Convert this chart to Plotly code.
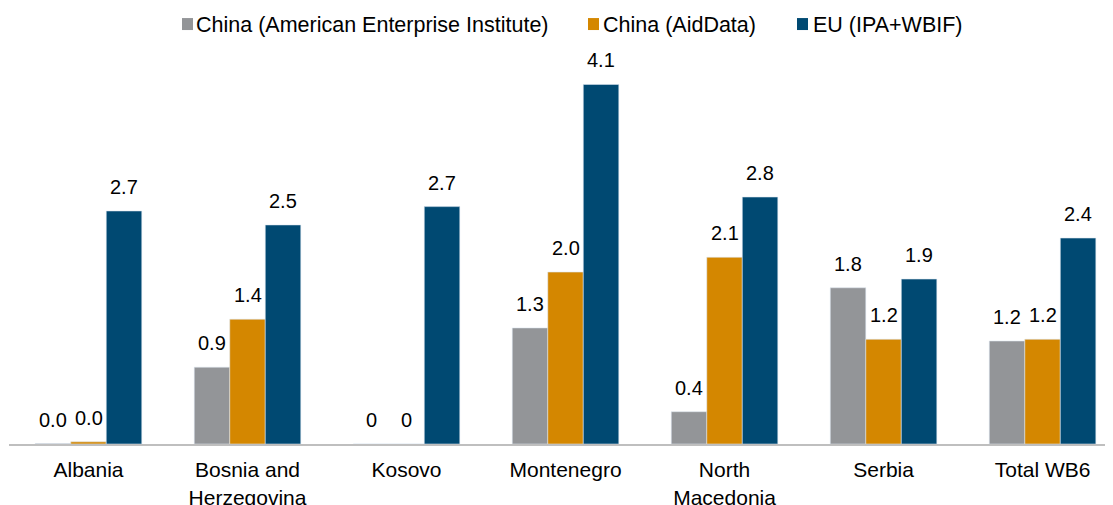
import plotly.graph_objects as go

categories = ["Albania", "Bosnia and<br>Herzegovina", "Kosovo", "Montenegro",
              "North<br>Macedonia", "Serbia", "Total WB6"]
series_names = ["China (American Enterprise Institute)", "China (AidData)", "EU (IPA+WBIF)"]
aei_values = [0.005, 0.88, 0.0, 1.33, 0.37, 1.79, 1.18]
aiddata_values = [0.025, 1.43, 0.0, 1.97, 2.14, 1.20, 1.20]
eu_values = [2.67, 2.51, 2.72, 4.12, 2.83, 1.89, 2.36]
aei_labels = ["0.0", "0.9", "0", "1.3", "0.4", "1.8", "1.2"]
aiddata_labels = ["0.0", "1.4", "0", "2.0", "2.1", "1.2", "1.2"]
eu_labels = ["2.7", "2.5", "2.7", "4.1", "2.8", "1.9", "2.4"]

colors = ["#939598", "#D48700", "#004972"]
FONT = "Liberation Sans, Arial, sans-serif"

all_values = [aei_values, aiddata_values, eu_values]
all_labels = [aei_labels, aiddata_labels, eu_labels]

# page geometry (browser body has an 8px margin)
W, H = 1105, 497
ML, MR, MT, MB = 1, 0, 52, 60.5
PW = W - ML - MR
PH = H - MT - MB


def px(xpage):
    return (xpage - 8 - ML) / PW


def py(ypage):
    return (H - MB + 8 - ypage) / PH


fig = go.Figure()
for name, vals, col in zip(series_names, all_values, colors):
    fig.add_trace(go.Bar(
        x=categories, y=vals, name=name, showlegend=False,
        marker=dict(color=col, line=dict(color="rgba(220,230,240,0.7)", width=0.8)),
        hoverinfo="skip",
    ))

bar_px = 35.5
annotations = []
for i, (vals, labs) in enumerate(zip(all_values, all_labels)):
    for cat, v, t in zip(categories, vals, labs):
        annotations.append(dict(
            x=cat, y=v, xref="x", yref="y", text=t, showarrow=False,
            xshift=(i - 1) * bar_px, yshift=24, yanchor="middle", xanchor="center",
            font=dict(family=FONT, size=20, color="#000000"),
        ))

# custom legend (square swatch close to the text, as in the reference)
legend_sq_left = [182, 588, 797]
legend_txt_left = [195, 602, 812]
shapes = []
for name, col, sx, tx in zip(series_names, colors, legend_sq_left, legend_txt_left):
    shapes.append(dict(type="rect", xref="paper", yref="paper",
                       x0=px(sx), x1=px(sx + 11), y0=py(30), y1=py(18),
                       fillcolor=col, line=dict(width=0)))
    annotations.append(dict(x=px(tx), y=py(24.5), xref="paper", yref="paper",
                            text=name, showarrow=False, xanchor="left", yanchor="middle",
                            borderpad=0,
                            font=dict(family=FONT, size=21.5, color="#000000")))

fig.update_layout(
    width=W, height=H,
    margin=dict(l=ML, r=MR, t=MT, b=MB, autoexpand=False),
    paper_bgcolor="white", plot_bgcolor="white",
    barmode="group", bargap=0.33, bargroupgap=0,
    font=dict(family=FONT, size=21, color="#000000"),
    showlegend=False,
    annotations=annotations,
    shapes=shapes,
    xaxis=dict(range=[-0.5, 6.443], showgrid=False, showline=True, linecolor="#BFBFBF",
               linewidth=2, ticks="", ticklabelstandoff=6,
               tickfont=dict(family=FONT, size=21, color="#000000"), fixedrange=True),
    yaxis=dict(range=[0, 4.4], showgrid=False, showticklabels=False, zeroline=False,
               showline=False, fixedrange=True),
)

fig.write_html("out.html")
